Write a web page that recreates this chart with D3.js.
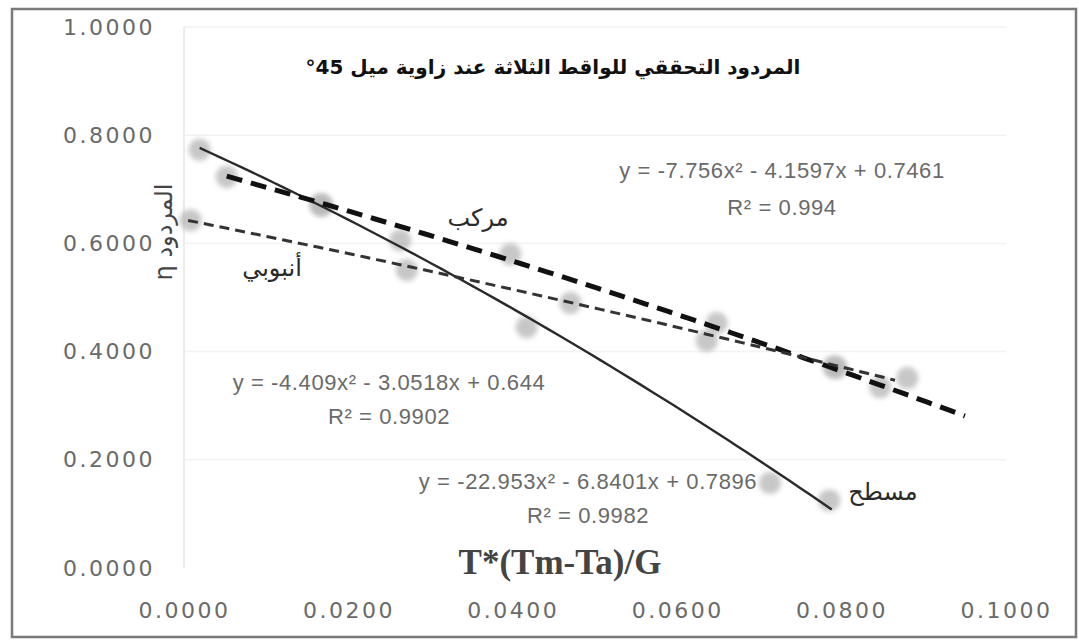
<!DOCTYPE html>
<html>
<head>
<meta charset="utf-8">
<script src="https://cdn.jsdelivr.net/npm/d3@7"></script>
<style>
  body { margin: 0; background: #fff; }
</style>
</head>
<body>
<div id="chart"></div>
<script>
// ---- data ----
var seriesNames = ["مسطح", "مركب", "أنبوبي"];

var flatX = [0.0019, 0.0168, 0.0263, 0.0417, 0.0713, 0.0785];
var flatY = [0.773, 0.670, 0.606, 0.445, 0.157, 0.125];

var compoundX = [0.0052, 0.0166, 0.0397, 0.0648, 0.0794, 0.0847];
var compoundY = [0.723, 0.672, 0.580, 0.453, 0.370, 0.334];

var tubeX = [0.0008, 0.0271, 0.0470, 0.0636, 0.0790, 0.0880];
var tubeY = [0.643, 0.551, 0.490, 0.420, 0.372, 0.351];

// polynomial trendlines (a x^2 + b x + c) as printed on the chart
var fitCoef = [[-22.953, -6.8401, 0.7896], [-7.756, -4.1597, 0.7461], [-4.409, -3.0518, 0.644]];
var fitRange = [[0.0019, 0.0788], [0.0052, 0.0950], [0.0005, 0.0865]];

var eqLabels = ["y = -22.953x² - 6.8401x + 0.7896", "y = -7.756x² - 4.1597x + 0.7461", "y = -4.409x² - 3.0518x + 0.644"];
var r2Labels = ["R² = 0.9982", "R² = 0.994", "R² = 0.9902"];

var xTicks = [0, 0.02, 0.04, 0.06, 0.08, 0.1];
var yTicks = [0, 0.2, 0.4, 0.6, 0.8, 1.0];

var chartTitle = "المردود التحققي للواقط الثلاثة عند زاوية ميل 45°";
var xTitle = "T*(Tm-Ta)/G";
var yTitle = "المردود η";

// ---- layout ----
var W = 1079, H = 640;
var svg = d3.select("#chart").append("svg")
    .attr("width", W)
    .attr("height", H);

var defs = svg.append("defs");
defs.append("filter").attr("id", "blur")
    .attr("x", "-50%").attr("y", "-50%").attr("width", "200%").attr("height", "200%")
    .append("feGaussianBlur").attr("stdDeviation", 2.6);

// outer frame
svg.append("rect")
    .attr("x", 12).attr("y", 9)
    .attr("width", 1064).attr("height", 628)
    .attr("fill", "#fff")
    .attr("stroke", "#7a7a7a")
    .attr("stroke-width", 2.5);

var x = d3.scaleLinear().domain([0, 0.1]).range([184, 1006]);
var y = d3.scaleLinear().domain([0, 1]).range([568, 27]);

// faint gridlines
svg.append("g").selectAll("line")
    .data(yTicks.slice(1))
    .enter().append("line")
    .attr("x1", x(0)).attr("x2", x(0.1))
    .attr("y1", function (d) { return y(d); })
    .attr("y2", function (d) { return y(d); })
    .attr("stroke", "#f3f3f3")
    .attr("stroke-width", 1.5);

svg.append("line")
    .attr("x1", x(0)).attr("x2", x(0))
    .attr("y1", y(1)).attr("y2", y(0))
    .attr("stroke", "#ececec").attr("stroke-width", 2);

// axes
var fmt = d3.format(".4f");

var xAxis = svg.append("g")
    .attr("transform", "translate(0," + y(0) + ")")
    .call(d3.axisBottom(x).tickValues(xTicks).tickFormat(fmt).tickSize(0).tickPadding(34));

var yAxis = svg.append("g")
    .attr("transform", "translate(" + x(0) + ",0)")
    .call(d3.axisLeft(y).tickValues(yTicks).tickFormat(fmt).tickSize(0).tickPadding(29));

[xAxis, yAxis].forEach(function (g) {
    g.select(".domain").remove();
    g.selectAll("text")
        .attr("fill", "#6a6a6a")
        .style("font-family", "DejaVu Sans, sans-serif")
        .style("font-size", "22px")
        .style("letter-spacing", "2.5px");
});

// markers
var series = [
    { xs: flatX, ys: flatY },
    { xs: compoundX, ys: compoundY },
    { xs: tubeX, ys: tubeY }
];

series.forEach(function (s) {
    svg.append("g")
        .selectAll("circle")
        .data(s.xs.map(function (v, i) { return [v, s.ys[i]]; }))
        .enter()
        .append("circle")
        .attr("cx", function (d) { return x(d[0]); })
        .attr("cy", function (d) { return y(d[1]); })
        .attr("r", 11)
        .attr("fill", "#b5b5b5")
        .attr("opacity", 0.75)
        .attr("filter", "url(#blur)");
});

// trendlines
var lineStyles = [
    { width: 2.4, dash: null, color: "#2a2a2a" },
    { width: 5, dash: "16,9", color: "#111" },
    { width: 3, dash: "10,6", color: "#333" }
];

var line = d3.line()
    .x(function (d) { return x(d[0]); })
    .y(function (d) { return y(d[1]); });

fitCoef.forEach(function (c, i) {
    var r = fitRange[i];
    var pts = d3.range(0, 61).map(function (k) {
        var t = r[0] + (r[1] - r[0]) * k / 60;
        return [t, c[0] * t * t + c[1] * t + c[2]];
    });
    svg.append("path")
        .datum(pts)
        .attr("d", line)
        .attr("fill", "none")
        .attr("stroke", lineStyles[i].color)
        .attr("stroke-width", lineStyles[i].width)
        .attr("stroke-dasharray", lineStyles[i].dash);
});

// equation labels
var eqPos = [[588, 481, 515], [782, 170, 207], [389, 382, 416]];
eqLabels.forEach(function (t, i) {
    svg.append("text")
        .attr("x", eqPos[i][0]).attr("y", eqPos[i][1])
        .attr("dy", "0.35em")
        .attr("text-anchor", "middle")
        .attr("fill", "#6a6a6a")
        .style("font-family", "Liberation Sans, Arial, sans-serif")
        .style("font-size", "22px")
        .style("letter-spacing", "0.6px")
        .text(t);
    svg.append("text")
        .attr("x", eqPos[i][0]).attr("y", eqPos[i][2])
        .attr("dy", "0.35em")
        .attr("text-anchor", "middle")
        .attr("fill", "#6a6a6a")
        .style("font-family", "Liberation Sans, Arial, sans-serif")
        .style("font-size", "22px")
        .style("letter-spacing", "0.6px")
        .text(r2Labels[i]);
});

// series name labels
var namePos = [[883, 492], [478, 218], [272, 268]];
seriesNames.forEach(function (n, i) {
    svg.append("text")
        .attr("x", namePos[i][0]).attr("y", namePos[i][1])
        .attr("dy", "0.35em")
        .attr("text-anchor", "middle")
        .attr("direction", "rtl")
        .attr("fill", "#2a2a2a")
        .style("font-family", "DejaVu Sans, sans-serif")
        .style("font-size", "24px")
        .text(n);
});

// titles
svg.append("text")
    .attr("x", 553).attr("y", 67)
    .attr("dy", "0.35em")
    .attr("text-anchor", "middle")
    .attr("direction", "rtl")
    .attr("fill", "#111")
    .style("font-family", "DejaVu Sans, sans-serif")
    .style("font-weight", "bold")
    .style("font-size", "20px")
    .text(chartTitle);

svg.append("text")
    .attr("x", 560).attr("y", 562)
    .attr("dy", "0.35em")
    .attr("text-anchor", "middle")
    .attr("fill", "#444")
    .style("font-family", "Liberation Serif, serif")
    .style("font-weight", "bold")
    .style("font-size", "35px")
    .text(xTitle);

svg.append("text")
    .attr("transform", "translate(164,232) rotate(-90)")
    .attr("dy", "0.35em")
    .attr("text-anchor", "middle")
    .attr("direction", "rtl")
    .attr("fill", "#444")
    .style("font-family", "DejaVu Sans, sans-serif")
    .style("font-size", "24px")
    .text(yTitle);
</script>
</body>
</html>
